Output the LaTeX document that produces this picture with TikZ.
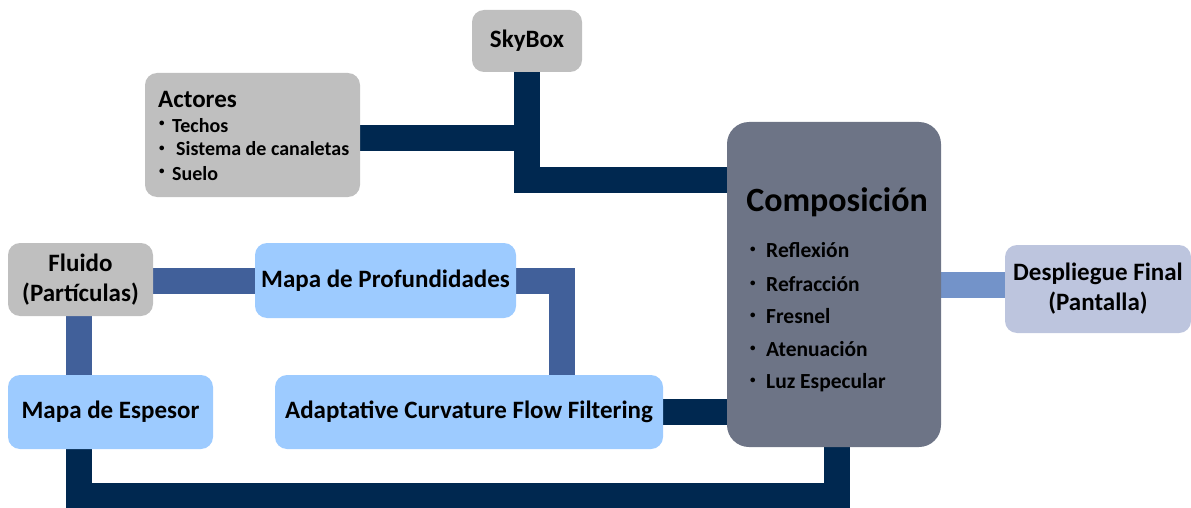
\documentclass[tikz,border=0pt]{standalone}
\usepackage{fontspec}
\setmainfont{Carlito}
\pgfdeclarelayer{bg}
\pgfsetlayers{bg,main}
\definecolor{boxgray}{HTML}{BFBFBF}
\definecolor{compgray}{HTML}{6D7486}
\definecolor{lavender}{HTML}{BDC5DE}
\definecolor{lightblue}{HTML}{9DCBFF}
\definecolor{navy}{HTML}{002850}
\definecolor{midblue}{HTML}{41609A}
\definecolor{softblue}{HTML}{7393C9}
\tikzset{
  box/.style={draw=none, rounded corners=12pt, inner sep=0pt, align=center,
    font=\bfseries\fontsize{25}{30}\selectfont},
  graybox/.style={box, fill=boxgray},
  bluebox/.style={box, fill=lightblue},
  bar/.style={line width=26pt},
  navybar/.style={bar, draw=navy},
  midbar/.style={bar, draw=midblue},
  softbar/.style={bar, draw=softblue},
  item/.style={anchor=base west, inner sep=0pt, font=\bfseries\fontsize{20}{24}\selectfont},
  citem/.style={anchor=base west, inner sep=0pt, font=\bfseries\fontsize{21.5}{26}\selectfont},
  dot/.style={anchor=base west, inner sep=0pt, font=\bfseries\fontsize{11}{13}\selectfont}
}
\begin{document}
\begin{tikzpicture}[x=1pt,y=-1pt]
\useasboundingbox (0,0) rectangle (1191,508);
% boxes
\node[graybox, minimum width=110pt, minimum height=62pt] (sky) at (527,41) {SkyBox};
\node[graybox, minimum width=215pt, minimum height=124pt] (act) at (252.5,135) {};
\node[box, fill=compgray, rounded corners=22pt, minimum width=214pt, minimum height=325pt] (comp) at (834,284.5) {};
\node[box, fill=lavender, minimum width=186pt, minimum height=88pt] (desp) at (1098,289) {Despliegue Final\\(Pantalla)};
\node[graybox, minimum width=145pt, minimum height=73pt] (flu) at (80.5,279.5) {Fluido\\(Partículas)};
\node[bluebox, minimum width=261pt, minimum height=75pt] (prof) at (385.5,280.5) {Mapa de Profundidades};
\node[bluebox, minimum width=205pt, minimum height=74pt] (esp) at (110.5,412) {Mapa de Espesor};
\node[bluebox, minimum width=388pt, minimum height=74pt] (acf) at (469,412) {Adaptative Curvature Flow Filtering};
% Actores text
\node[anchor=base west, inner sep=0pt, font=\bfseries\fontsize{25}{30}\selectfont] (actt) at (158,108) {Actores};
\node[dot] (ad1) at (159,127) {•};
\node[item] (a1) at (172,132) {Techos};
\node[dot] (ad2) at (159,151) {•};
\node[item] (a2) at (176,156) {Sistema de canaletas};
\node[dot] (ad3) at (159,175) {•};
\node[item] (a3) at (172,180) {Suelo};
% Composicion text
\node[anchor=base, inner sep=0pt, font=\bfseries\fontsize{34}{40}\selectfont] (compt) at (837,211) {Composición};
\node[dot] (cd1) at (750,252) {•};
\node[citem] (c1) at (766,257) {Reflexión};
\node[dot] (cd2) at (750,286) {•};
\node[citem] (c2) at (766,291) {Refracción};
\node[dot] (cd3) at (750,318) {•};
\node[citem] (c3) at (766,323) {Fresnel};
\node[dot] (cd4) at (750,351) {•};
\node[citem] (c4) at (766,356) {Atenuación};
\node[dot] (cd5) at (750,383) {•};
\node[citem] (c5) at (766,388) {Luz Especular};
% helper coordinates
\coordinate (j1) at (527,180);
\coordinate (j2) at (562,375);
\coordinate (j3) at (79,316);
\coordinate (j4) at (837,495.5);
\begin{pgfonlayer}{bg}
\draw[navybar] (sky.south) |- (comp.west |- j1);
\draw[navybar] (act.east |- 0,138) -- (sky.south |- 0,138);
\draw[midbar] (flu.east |- 0,281) -- (prof.west |- 0,281);
\draw[midbar] (prof.east |- 0,281) -| (acf.north -| j2);
\draw[midbar] (flu.south -| j3) -- (esp.north -| j3);
\draw[navybar] (acf.east) -- (acf.east -| comp.west);
\draw[navybar] (esp.south -| j3) |- (j4) -- (comp.south -| j4);
\draw[softbar] (comp.east) -- (comp.east -| desp.west);
\end{pgfonlayer}
\end{tikzpicture}
\end{document}
